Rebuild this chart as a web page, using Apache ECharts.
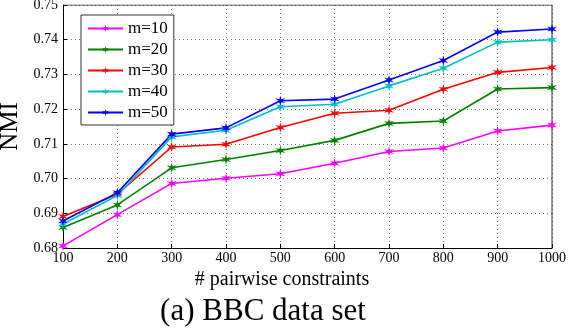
<!DOCTYPE html>
<html>
<head>
<meta charset="utf-8">
<script src="https://cdn.jsdelivr.net/npm/echarts@6/dist/echarts.min.js"></script>
<style>
    html, body { margin: 0; padding: 0; background: #fff; }
    #chart { width: 568px; height: 334px; }
</style>
</head>
<body>
<div id="chart"></div>
<script>
// data
var constraints = [100, 200, 300, 400, 500, 600, 700, 800, 900, 1000];
var m10 = [0.6806, 0.6896, 0.6986, 0.7001, 0.7014, 0.7044, 0.7078, 0.7088, 0.7137, 0.7154];
var m20 = [0.6859, 0.6924, 0.7031, 0.7055, 0.7081, 0.7110, 0.7159, 0.7166, 0.7258, 0.7262];
var m30 = [0.6891, 0.6955, 0.7091, 0.7099, 0.7147, 0.7188, 0.7197, 0.7257, 0.7306, 0.7320];
var m40 = [0.6869, 0.6951, 0.7120, 0.7139, 0.7207, 0.7214, 0.7267, 0.7318, 0.7393, 0.7400];
var m50 = [0.6878, 0.6959, 0.7128, 0.7146, 0.7224, 0.7229, 0.7284, 0.7340, 0.7422, 0.7431];
var seriesNames = ['m=10', 'm=20', 'm=30', 'm=40', 'm=50'];
var seriesData = [m10, m20, m30, m40, m50];
var colors = ['#ff00ff', '#008000', '#ff0000', '#00bfbf', '#0000ff'];

var star = 'path://M0,-10 L1.75,-3.03 L8.66,-5 L3.5,0 L8.66,5 L1.75,3.03 L0,10 L-1.75,3.03 L-8.66,5 L-3.5,0 L-8.66,-5 L-1.75,-3.03 Z';
var serif = '"Liberation Serif", "DejaVu Serif", serif';

function pairs(vals) {
    return constraints.map(function (x, i) { return [x, vals[i]]; });
}

var myChart = echarts.init(document.getElementById('chart'));
var option = {
    animation: false,
    color: colors,
    textStyle: { fontFamily: serif },
    title: [
        {
            text: '# pairwise constraints',
            left: 282, top: 270, textAlign: 'center', padding: 0,
            textStyle: { fontFamily: serif, fontSize: 20, fontWeight: 'normal', color: '#000' }
        },
        {
            text: '(a) BBC data set',
            left: 263, top: 296, textAlign: 'center', padding: 0,
            textStyle: { fontFamily: serif, fontSize: 31, fontWeight: 'normal', color: '#000' }
        }
    ],
    legend: {
        orient: 'vertical',
        left: 81, top: 15,
        data: seriesNames,
        itemWidth: 35, itemHeight: 9,
        itemGap: 4,
        padding: [5, 6, 4, 6],
        borderColor: '#333', borderWidth: 1,
        backgroundColor: '#fff',
        textStyle: { fontFamily: serif, fontSize: 17, color: '#000' }
    },
    grid: { left: 63, right: 16, top: 5, bottom: 86, outerBoundsMode: 'none' },
    xAxis: {
        type: 'value',
        min: 100, max: 1000, interval: 100,
        axisLine: { onZero: false, lineStyle: { color: '#000', width: 1 } },
        axisTick: { inside: true, length: 4, lineStyle: { color: '#000' } },
        axisLabel: {
            color: '#000', fontSize: 14, margin: 3,
            formatter: function (v) { return String(v); }
        },
        splitLine: { show: true, lineStyle: { color: '#777', type: [1, 3], width: 1 } }
    },
    yAxis: {
        type: 'value',
        min: 0.68, max: 0.75, interval: 0.01,
        name: 'NMI',
        nameLocation: 'middle', nameGap: 36,
        nameTextStyle: { fontFamily: serif, fontSize: 25, color: '#000' },
        axisLine: { show: true, lineStyle: { color: '#000', width: 1 } },
        axisTick: { inside: true, length: 4, lineStyle: { color: '#000' } },
        axisLabel: {
            color: '#000', fontSize: 14, margin: 5,
            formatter: function (v) { return v.toFixed(2); }
        },
        splitLine: { show: true, lineStyle: { color: '#777', type: [1, 3], width: 1 } }
    },
    series: seriesNames.map(function (name, k) {
        return {
            name: name,
            type: 'line',
            data: pairs(seriesData[k]),
            symbol: star,
            symbolSize: 10,
            showAllSymbol: true,
            lineStyle: { width: 1.6 },
            itemStyle: { color: colors[k] }
        };
    }).concat([{
        // box around the plot
        type: 'line',
        data: [[100, 0.75], [1000, 0.75], [1000, 0.68]],
        symbol: 'none',
        silent: true,
        lineStyle: { color: '#333', width: 1 },
        itemStyle: { color: '#333' },
        z: 1
    }])
};
myChart.setOption(option);
</script>
</body>
</html>
